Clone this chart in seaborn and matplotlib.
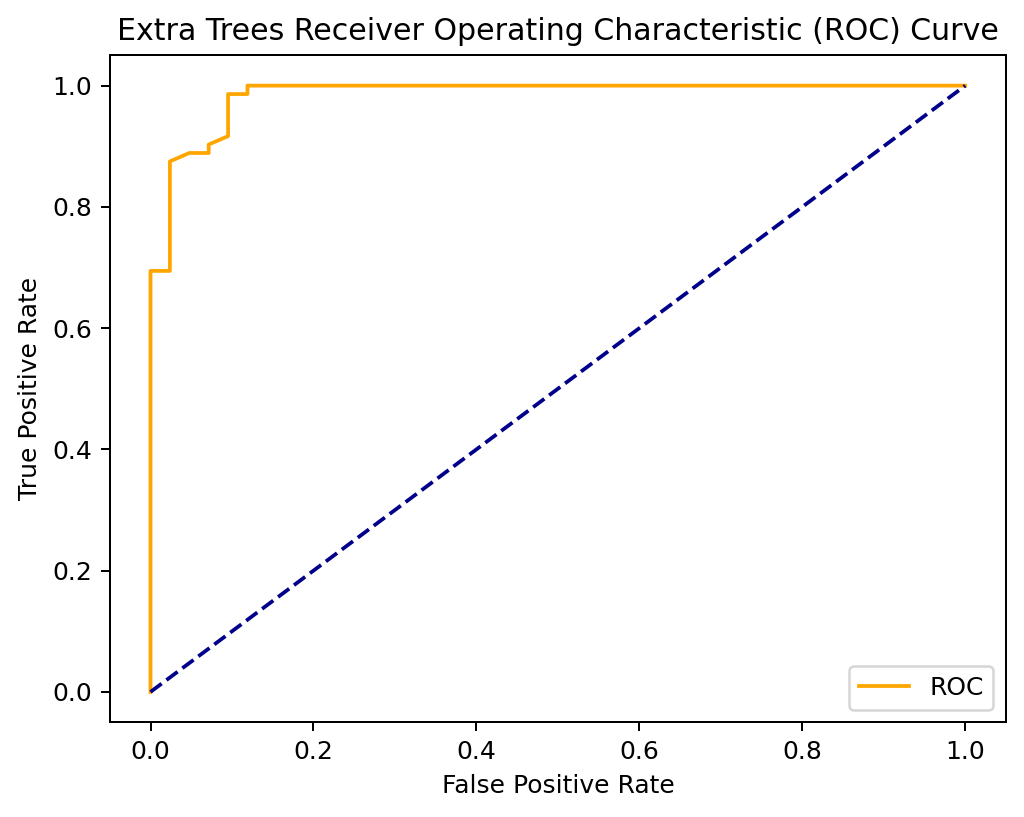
import matplotlib
matplotlib.use("Agg")
import matplotlib.pyplot as plt
import seaborn as sns
import pandas as pd

# ROC points
fpr = [0.0, 0.0, 0.0238, 0.0238, 0.0476, 0.0714, 0.0714, 0.0952, 0.0952, 0.119, 0.119, 1.0]
tpr = [0.0, 0.6944, 0.6944, 0.875, 0.8889, 0.8889, 0.9028, 0.9167, 0.9861, 0.9861, 1.0, 1.0]
diag = [0.0, 1.0]

df = pd.DataFrame({"fpr": fpr, "tpr": tpr})

fig, ax = plt.subplots(figsize=(1024 / 180, 817 / 180), dpi=180)
fig.subplots_adjust(left=0.1072, right=0.9824, top=0.9323, bottom=0.1160)

sns.lineplot(data=df, x="fpr", y="tpr", sort=False, estimator=None,
             color="orange", label="ROC", ax=ax)
sns.lineplot(x=diag, y=diag, color="darkblue", linestyle="--", ax=ax)

ax.set_title("Extra Trees Receiver Operating Characteristic (ROC) Curve")
ax.set_xlabel("False Positive Rate")
ax.set_ylabel("True Positive Rate")
ax.legend(loc="lower right")

fig.savefig("out.png", dpi=180)
